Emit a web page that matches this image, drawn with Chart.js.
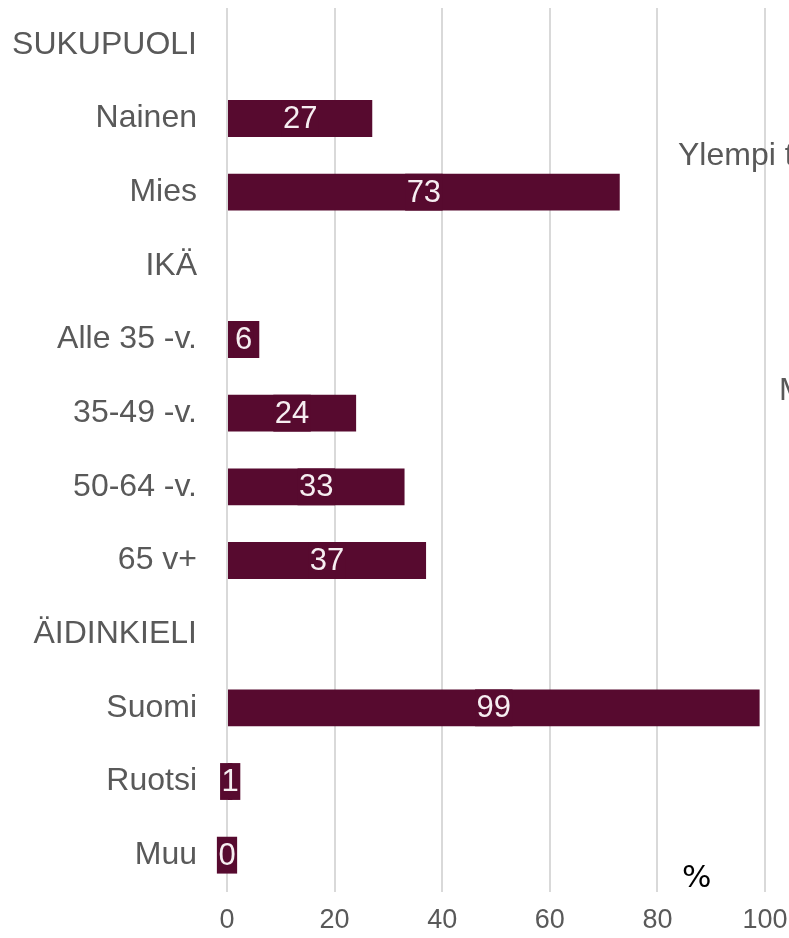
<!DOCTYPE html>
<html>
<head>
<meta charset="utf-8">
<script src="https://cdn.jsdelivr.net/npm/chart.js@4"></script>
<style>
  html, body { margin: 0; padding: 0; background: #fff; overflow: hidden; }
  #wrap { position: relative; width: 789px; height: 938px; overflow: hidden; }
  .extra { position: absolute; font-family: "Liberation Sans", Arial, sans-serif; font-size: 32px; color: #595959; white-space: nowrap; line-height: 1; }
</style>
</head>
<body>
<div id="wrap">
  <canvas id="grafico" width="789" height="938"></canvas>
  <div class="extra" style="left:678px; top:138px;">Ylempi toimihenkilö</div>
  <div class="extra" style="left:779px; top:373px;">Muu</div>
  <div class="extra" style="left:682px; top:861px; color:#000; font-family:'DejaVu Sans', sans-serif; font-size:31px;">%</div>
</div>
<script>
// Datos del gráfico
const categorias = ["SUKUPUOLI", "Nainen", "Mies", "IKÄ", "Alle 35 -v.", "35-49 -v.", "50-64 -v.", "65 v+", "ÄIDINKIELI", "Suomi", "Ruotsi", "Muu"];
const valores = [null, 27, 73, null, 6, 24, 33, 37, null, 99, 1, 0];
const ticksX = [0, 20, 40, 60, 80, 100];

const colorBarra = "#570a2f";
const colorTexto = "#595959";
const fuente = '"Liberation Sans", Arial, Helvetica, sans-serif';

// Etiquetas con fondo dentro de cada barra
const etiquetasPlugin = {
  id: "etiquetas",
  afterDatasetsDraw(chart) {
    const ctx = chart.ctx;
    const meta = chart.getDatasetMeta(0);
    ctx.save();
    ctx.font = "31px " + fuente;
    ctx.textAlign = "center";
    ctx.textBaseline = "middle";
    meta.data.forEach((bar, i) => {
      const v = valores[i];
      if (v === null || v === undefined) return;
      const texto = String(v);
      const cx = (bar.x + bar.base) / 2;
      const w = ctx.measureText(texto).width + 3;
      const h = bar.height;
      ctx.fillStyle = colorBarra;
      ctx.fillRect(cx - w / 2, bar.y - h / 2, w, h);
      ctx.fillStyle = "#f6eef1";
      ctx.fillText(texto, cx, bar.y + 1);
    });
    ctx.restore();
  }
};

new Chart(document.getElementById("grafico"), {
  type: "bar",
  data: {
    labels: categorias,
    datasets: [{
      data: valores,
      backgroundColor: colorBarra,
      borderWidth: 0,
      barPercentage: 0.5,
      categoryPercentage: 1.0
    }]
  },
  options: {
    indexAxis: "y",
    responsive: false,
    animation: false,
    layout: { padding: { top: 8, right: 24, bottom: 0, left: 0 } },
    plugins: {
      legend: { display: false },
      tooltip: { enabled: false }
    },
    scales: {
      x: {
        min: 0,
        max: 100,
        afterBuildTicks: (scale) => { scale.ticks = ticksX.map(v => ({ value: v })); },
        afterFit: (scale) => {
          scale.height = 46;
          scale.paddingLeft = 0;
          scale.paddingRight = 0;
        },
        grid: { color: "#d9d9d9", lineWidth: 2, drawTicks: false },
        border: { display: false },
        ticks: { color: colorTexto, font: { size: 27, family: fuente }, padding: 12 }
      },
      y: {
        afterFit: (scale) => {
          scale.width = 227;
          scale.paddingTop = 0;
          scale.paddingBottom = 0;
        },
        grid: { display: false, drawTicks: false },
        border: { display: false },
        ticks: { color: colorTexto, font: { size: 32, family: fuente }, padding: 30, autoSkip: false }
      }
    }
  },
  plugins: [etiquetasPlugin]
});
</script>
</body>
</html>
